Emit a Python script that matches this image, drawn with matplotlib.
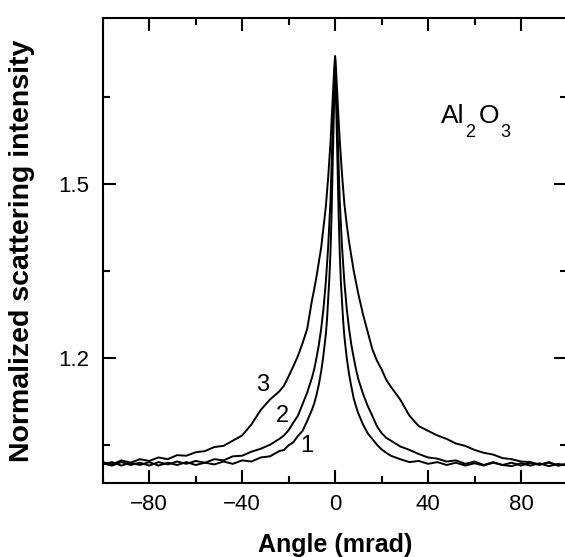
import matplotlib
matplotlib.use("Agg")
import matplotlib.pyplot as plt
from matplotlib.ticker import MultipleLocator, FixedLocator

plt.rcParams['font.family'] = ['Liberation Sans', 'DejaVu Sans']

#---------------------------------------------------------
#Data
#---------------------------------------------------------

angle = [-100, -96, -92, -88, -84, -80, -76, -72, -68, -64, -60, -56, -52, -48, -44, -40, -36, -32, -28, -24,
         -22, -20, -18, -16, -14, -12, -10,
         -9, -8, -7, -6, -5, -4,
         -3.5, -3, -2.5, -2, -1.5, -1, -0.5, 0, 0.5, 1, 1.5, 2, 2.5, 3, 3.5,
         4, 5, 6, 7, 8, 9,
         10, 12, 14, 16, 18, 20, 22,
         24, 28, 32, 36, 40, 44, 48, 52, 56, 60, 64, 68, 72, 76, 80, 84, 88, 92, 96, 100]

curve1 = [1.016, 1.020, 1.014, 1.019, 1.015, 1.020, 1.014, 1.019, 1.015, 1.020, 1.015, 1.019, 1.016, 1.021, 1.017, 1.023, 1.021, 1.028, 1.030, 1.039,
          1.041, 1.049, 1.054, 1.065, 1.074, 1.091, 1.110,
          1.121, 1.136, 1.154, 1.176, 1.205, 1.240,
          1.265, 1.300, 1.335, 1.380, 1.450, 1.540, 1.630, 1.720, 1.630, 1.540, 1.450, 1.380, 1.330, 1.295, 1.262,
          1.236, 1.200, 1.172, 1.150, 1.130, 1.116,
          1.104, 1.085, 1.070, 1.060, 1.050, 1.042, 1.036,
          1.031, 1.025, 1.020, 1.022, 1.017, 1.020, 1.015, 1.019, 1.014, 1.018, 1.014, 1.019, 1.015, 1.013, 1.018, 1.014, 1.018, 1.013, 1.017, 1.014]

curve2 = [1.018, 1.014, 1.020, 1.015, 1.019, 1.014, 1.020, 1.016, 1.021, 1.017, 1.022, 1.019, 1.025, 1.023, 1.030, 1.031, 1.038, 1.043, 1.050, 1.060,
          1.066, 1.075, 1.088, 1.100, 1.120, 1.140, 1.165,
          1.180, 1.200, 1.222, 1.250, 1.285, 1.330,
          1.360, 1.390, 1.430, 1.470, 1.535, 1.600, 1.660, 1.715, 1.660, 1.600, 1.535, 1.470, 1.430, 1.390, 1.360,
          1.330, 1.285, 1.250, 1.222, 1.200, 1.180,
          1.163, 1.138, 1.117, 1.100, 1.082, 1.070, 1.062,
          1.057, 1.047, 1.041, 1.034, 1.028, 1.026, 1.021, 1.023, 1.017, 1.021, 1.015, 1.020, 1.015, 1.019, 1.014, 1.019, 1.015, 1.020, 1.014, 1.017]

curve3 = [1.020, 1.016, 1.023, 1.019, 1.025, 1.022, 1.028, 1.025, 1.032, 1.031, 1.037, 1.039, 1.046, 1.048, 1.057, 1.066, 1.085, 1.110, 1.128, 1.142,
          1.152, 1.168, 1.185, 1.203, 1.225, 1.250, 1.298,
          1.318, 1.340, 1.365, 1.390, 1.425, 1.460,
          1.485, 1.510, 1.540, 1.570, 1.610, 1.650, 1.690, 1.720, 1.690, 1.650, 1.610, 1.575, 1.545, 1.515, 1.490,
          1.465, 1.430, 1.400, 1.375, 1.350, 1.330,
          1.310, 1.275, 1.245, 1.215, 1.195, 1.180, 1.162,
          1.150, 1.128, 1.100, 1.082, 1.074, 1.066, 1.060, 1.052, 1.048, 1.041, 1.036, 1.033, 1.027, 1.025, 1.021, 1.020, 1.016, 1.019, 1.014, 1.017]

curve_labels = ['1', '2', '3']
label_x = [-12.0, -22.8, -31.0]
label_y = [1.047, 1.100, 1.153]

x_ticks = [-80, -40, 0, 40, 80]
y_ticks = [1.2, 1.5]
y_minor = [1.05, 1.35, 1.65]

#---------------------------------------------------------
#Plot
#---------------------------------------------------------

fig = plt.figure(figsize=(5.65, 5.57), dpi=100)
ax = fig.add_axes([0.1818, 0.1329, 0.8226, 0.8348])

for c in [curve1, curve2, curve3]:
    ax.plot(angle, c, color='black', linewidth=1.4)

for t, lx, ly in zip(curve_labels, label_x, label_y):
    ax.text(lx, ly, t, fontsize=17, ha='center', va='center')

# Al2O3 with low-set subscripts
ax.text(0.728, 0.774, 'Al', transform=ax.transAxes, fontsize=19, va='baseline')
ax.text(0.780, 0.744, '2', transform=ax.transAxes, fontsize=13, va='baseline')
ax.text(0.809, 0.774, 'O', transform=ax.transAxes, fontsize=19, va='baseline')
ax.text(0.856, 0.744, '3', transform=ax.transAxes, fontsize=13, va='baseline')

ax.set_xlim(-100, 100)
ax.set_ylim(0.984, 1.786)
ax.set_xticks(x_ticks)
ax.xaxis.set_minor_locator(MultipleLocator(20))
ax.set_yticks(y_ticks)
ax.yaxis.set_minor_locator(FixedLocator(y_minor))
ax.set_yticklabels(['1.2', '1.5'])

ax.tick_params(which='both', direction='in', top=True, right=True, width=1.5, labelsize=16)
ax.tick_params(which='major', length=9.5)
ax.tick_params(which='minor', length=5)
ax.tick_params(axis='x', pad=8)
ax.tick_params(axis='y', pad=10)
for s in ax.spines.values():
    s.set_linewidth(1.5)

ax.set_xlabel('Angle (mrad)', fontsize=18, fontweight='bold', labelpad=13)
ax.set_ylabel('Normalized scattering intensity', fontsize=20.5, fontweight='bold')
ax.yaxis.set_label_coords(-0.145, 0.5)

fig.savefig('out.png', dpi=100)
